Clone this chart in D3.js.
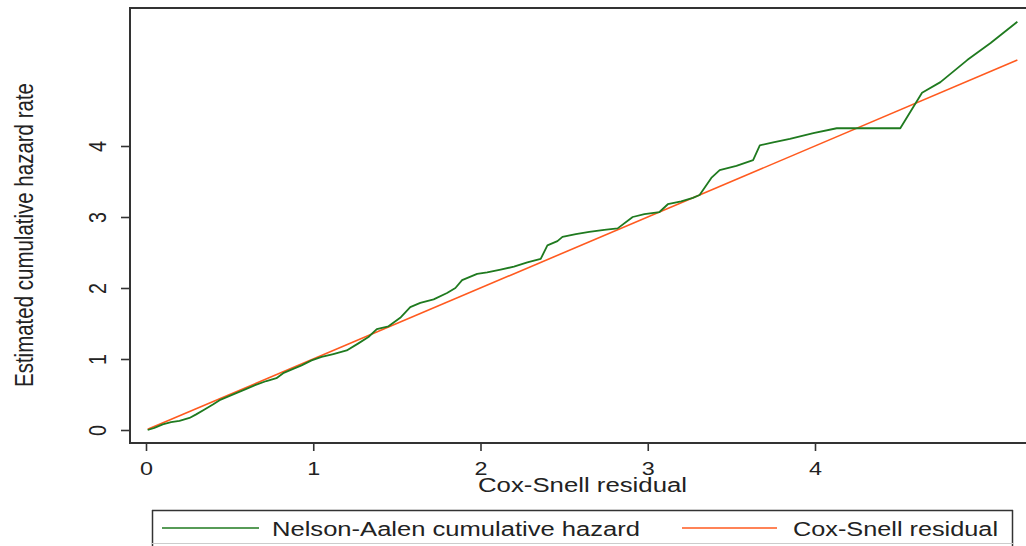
<!DOCTYPE html>
<html>
<head>
<meta charset="utf-8">
<script src="https://cdn.jsdelivr.net/npm/d3@7"></script>
<style>
  body { margin: 0; background: #fff; }
  svg { display: block; font-family: "Liberation Sans", Arial, sans-serif; }
</style>
</head>
<body>
<svg width="1026" height="546"></svg>
<script>
// Nelson-Aalen cumulative hazard vs Cox-Snell residual
var naX = [0.01, 0.05, 0.10, 0.15, 0.20, 0.26, 0.30, 0.35, 0.40, 0.44, 0.50, 0.55, 0.60, 0.66, 0.72,
           0.78, 0.82, 0.88, 0.93, 0.99, 1.05, 1.12, 1.20, 1.27, 1.33, 1.38, 1.45, 1.52, 1.58, 1.64,
           1.72, 1.80, 1.85, 1.89, 1.98, 2.04, 2.12, 2.20, 2.28, 2.36, 2.40, 2.46, 2.49, 2.57, 2.65,
           2.74, 2.82, 2.91, 2.98, 3.07, 3.12, 3.20, 3.27, 3.31, 3.38, 3.43, 3.53, 3.63, 3.67, 3.75,
           3.85, 3.99, 4.13, 4.30, 4.51, 4.64, 4.75, 4.91, 5.05, 5.21];
var naY = [0.00, 0.03, 0.08, 0.11, 0.13, 0.17, 0.22, 0.29, 0.36, 0.42, 0.48, 0.53, 0.58, 0.64, 0.69,
           0.73, 0.80, 0.86, 0.91, 0.98, 1.03, 1.07, 1.12, 1.22, 1.31, 1.42, 1.46, 1.58, 1.73, 1.79,
           1.84, 1.93, 2.00, 2.11, 2.20, 2.22, 2.26, 2.30, 2.36, 2.41, 2.60, 2.66, 2.72, 2.76, 2.79,
           2.82, 2.84, 3.00, 3.04, 3.07, 3.18, 3.22, 3.27, 3.31, 3.55, 3.66, 3.72, 3.80, 4.01, 4.05,
           4.10, 4.18, 4.25, 4.25, 4.25, 4.75, 4.90, 5.21, 5.45, 5.75];
var csX = [0.01, 5.21];
var csY = [0.01, 5.21];

var xTicks = [0, 1, 2, 3, 4];
var yTicks = [0, 1, 2, 3, 4];
var seriesNames = ["Nelson-Aalen cumulative hazard", "Cox-Snell residual"];
var colors = ["#1f7a1f", "#ff5a1f"];

var svg = d3.select("svg");

var x = d3.scaleLinear().domain([0, 4]).range([146, 815]);
var y = d3.scaleLinear().domain([0, 4]).range([430, 146]);

var frame = "#333";

// frame lines (left, bottom, top)
svg.append("line").attr("x1", 130).attr("x2", 130).attr("y1", 7).attr("y2", 444)
  .attr("stroke", frame).attr("stroke-width", 2);
svg.append("line").attr("x1", 129).attr("x2", 1026).attr("y1", 443).attr("y2", 443)
  .attr("stroke", frame).attr("stroke-width", 2);
svg.append("line").attr("x1", 129).attr("x2", 1026).attr("y1", 8).attr("y2", 8)
  .attr("stroke", frame).attr("stroke-width", 2);

// y axis
var yAxis = svg.append("g")
  .attr("transform", "translate(130,0)")
  .call(d3.axisLeft(y).tickValues(yTicks).tickSize(9).tickFormat(d3.format("d")));
yAxis.select(".domain").remove();
yAxis.selectAll("line").attr("stroke", frame).attr("stroke-width", 1.6);
yAxis.selectAll("text")
  .attr("x", 0).attr("y", 0).attr("dy", null)
  .attr("text-anchor", "middle")
  .attr("transform", "translate(-24,0) rotate(-90)")
  .attr("font-size", 24)
  .attr("textLength", 11)
  .attr("lengthAdjust", "spacingAndGlyphs")
  .attr("fill", "#222")
  .attr("font-family", "Liberation Sans, Arial, sans-serif");

// x axis
var xAxis = svg.append("g")
  .attr("transform", "translate(0,443)")
  .call(d3.axisBottom(x).tickValues(xTicks).tickSize(8).tickFormat(d3.format("d")));
xAxis.select(".domain").remove();
xAxis.selectAll("line").attr("stroke", frame).attr("stroke-width", 1.6);
xAxis.selectAll("text")
  .attr("y", 32).attr("dy", null)
  .attr("font-size", 19)
  .attr("textLength", 13)
  .attr("lengthAdjust", "spacingAndGlyphs")
  .attr("fill", "#222")
  .attr("font-family", "Liberation Sans, Arial, sans-serif");

// axis titles
svg.append("text")
  .attr("x", 478).attr("y", 492)
  .attr("font-size", 20)
  .attr("textLength", 209)
  .attr("lengthAdjust", "spacingAndGlyphs")
  .attr("fill", "#222")
  .text("Cox-Snell residual");

svg.append("text")
  .attr("transform", "translate(33,235) rotate(-90)")
  .attr("text-anchor", "middle")
  .attr("font-size", 26)
  .attr("textLength", 304)
  .attr("lengthAdjust", "spacingAndGlyphs")
  .attr("fill", "#222")
  .text("Estimated cumulative hazard rate");

// lines
var line = d3.line().x(d => x(d[0])).y(d => y(d[1]));

svg.append("path")
  .datum(csX.map((v, i) => [v, csY[i]]))
  .attr("d", line)
  .attr("fill", "none")
  .attr("stroke", colors[1])
  .attr("stroke-width", 1.6);

svg.append("path")
  .datum(naX.map((v, i) => [v, naY[i]]))
  .attr("d", line)
  .attr("fill", "none")
  .attr("stroke", colors[0])
  .attr("stroke-width", 1.8)
  .attr("stroke-linejoin", "round");

// legend
var lg = svg.append("g");
lg.append("line").attr("x1", 152).attr("x2", 1013).attr("y1", 510.5).attr("y2", 510.5)
  .attr("stroke", frame).attr("stroke-width", 1.5);
lg.append("line").attr("x1", 152.5).attr("x2", 152.5).attr("y1", 510).attr("y2", 546)
  .attr("stroke", frame).attr("stroke-width", 1.5);
lg.append("line").attr("x1", 1012.5).attr("x2", 1012.5).attr("y1", 510).attr("y2", 546)
  .attr("stroke", frame).attr("stroke-width", 1.5);
lg.append("line").attr("x1", 152).attr("x2", 1013).attr("y1", 543.5).attr("y2", 543.5)
  .attr("stroke", "#ccc").attr("stroke-width", 1);

var legendItems = [
  { x1: 162, x2: 259, tx: 272, tw: 368 },
  { x1: 682, x2: 777, tx: 793, tw: 205 }
];
legendItems.forEach(function(it, i) {
  lg.append("line").attr("x1", it.x1).attr("x2", it.x2).attr("y1", 528).attr("y2", 528)
    .attr("stroke", colors[i]).attr("stroke-width", 1.6);
  lg.append("text").attr("x", it.tx).attr("y", 536)
    .attr("font-size", 20)
    .attr("textLength", it.tw)
    .attr("lengthAdjust", "spacingAndGlyphs")
    .attr("fill", "#222")
    .text(seriesNames[i]);
});
</script>
</body>
</html>
